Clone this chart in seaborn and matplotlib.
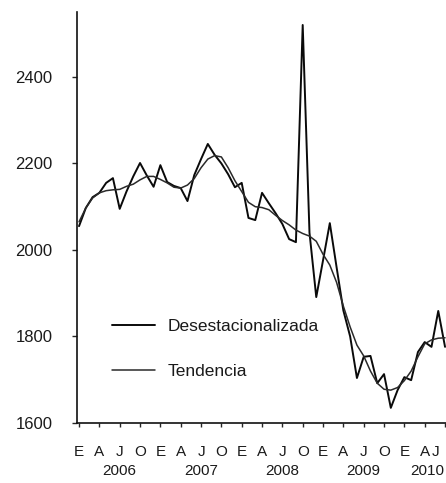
import matplotlib
matplotlib.use("Agg")
import matplotlib.pyplot as plt
import matplotlib.transforms as mtransforms
import numpy as np
import pandas as pd
import seaborn as sns

# Monthly series, January 2006 to July 2010
desestacionalizada = [
    2055, 2097, 2122, 2132, 2155, 2166, 2095, 2135, 2170, 2201, 2172, 2146,
    2196, 2157, 2148, 2143, 2113, 2173, 2210, 2245, 2220, 2200, 2175, 2145,
    2155, 2074, 2069, 2132, 2108, 2085, 2060, 2025, 2018, 2520, 2040, 1891,
    1976, 2062, 1960, 1860, 1800, 1704, 1753, 1755, 1692, 1713, 1635, 1676,
    1706, 1699, 1764, 1787, 1776, 1859, 1776,
]
tendencia = [
    2065, 2097, 2120, 2132, 2137, 2139, 2140, 2147, 2152, 2162, 2170, 2170,
    2163, 2155, 2145, 2143, 2150, 2165, 2190, 2210, 2218, 2215, 2190, 2160,
    2135, 2110, 2100, 2098, 2093, 2080, 2068, 2058, 2046, 2038, 2032, 2020,
    1990, 1965, 1925, 1870, 1822, 1780, 1755, 1720, 1692, 1678, 1676, 1682,
    1698, 1720, 1753, 1783, 1792, 1796, 1797,
]
month_letters = ["E", "A", "J", "O"]
years = ["2006", "2007", "2008", "2009", "2010"]
y_ticks = [1600, 1800, 2000, 2200, 2400]

n = len(desestacionalizada)
df = pd.DataFrame({
    "mes": np.arange(n),
    "Desestacionalizada": desestacionalizada,
    "Tendencia": tendencia,
})

sns.set_style("ticks")
plt.rcParams["font.family"] = ["Liberation Sans", "DejaVu Sans"]
text_color = "#1a1a1a"

fig = plt.figure(figsize=(4.46, 4.83), dpi=100)
ax = fig.add_axes([77 / 446, 1 - 423 / 483, 1 - 77 / 446 + 0.01, (423 - 12) / 483])

sns.lineplot(data=df, x="mes", y="Desestacionalizada", ax=ax, color="#0a0a0a",
             linewidth=1.4, label="Desestacionalizada")
sns.lineplot(data=df, x="mes", y="Tendencia", ax=ax, color="#2a2a2a",
             linewidth=1.1, label="Tendencia")

ax.set_xlim(-0.3, 54.8)
ax.set_ylim(1600, 2550)
ax.set_xlabel("")
ax.set_ylabel("")

ax.set_yticks(y_ticks)
ax.set_yticklabels([str(v) for v in y_ticks], fontsize=12, color=text_color)
qticks = np.arange(0, n, 3)
ax.set_xticks(qticks)
ax.set_xticklabels([month_letters[i % 4] for i in range(len(qticks))],
                   fontsize=11, color=text_color)
ax.tick_params(axis="y", length=3.5, width=1, pad=14, direction="out")
ax.tick_params(axis="x", length=3, width=1, pad=13, direction="out")

# the last month letter sits a little to the left, next to the "A"
last = ax.get_xticklabels()[-1]
last.set_transform(last.get_transform() +
                   mtransforms.ScaledTranslation(-7 / 72, 0, fig.dpi_scale_trans))

for side in ("top", "right"):
    ax.spines[side].set_visible(False)
for side in ("left", "bottom"):
    ax.spines[side].set_linewidth(1.2)
    ax.spines[side].set_color("#111111")

# Year labels under the month letters
trans = mtransforms.blended_transform_factory(ax.transData, fig.transFigure)
year_pos = [6, 18, 30, 42, 51.4]
for pos, yr in zip(year_pos, years):
    ax.text(pos, 1 - 471 / 483, yr, transform=trans, ha="center", va="center",
            fontsize=11, color=text_color, clip_on=False)

leg = ax.legend(loc="upper left", bbox_to_anchor=(0.075, 0.27), frameon=False,
                fontsize=12.5, handlelength=2.5, handletextpad=0.7,
                labelspacing=1.7, borderaxespad=0)
for t in leg.get_texts():
    t.set_color(text_color)

fig.savefig("out.png", dpi=100)
